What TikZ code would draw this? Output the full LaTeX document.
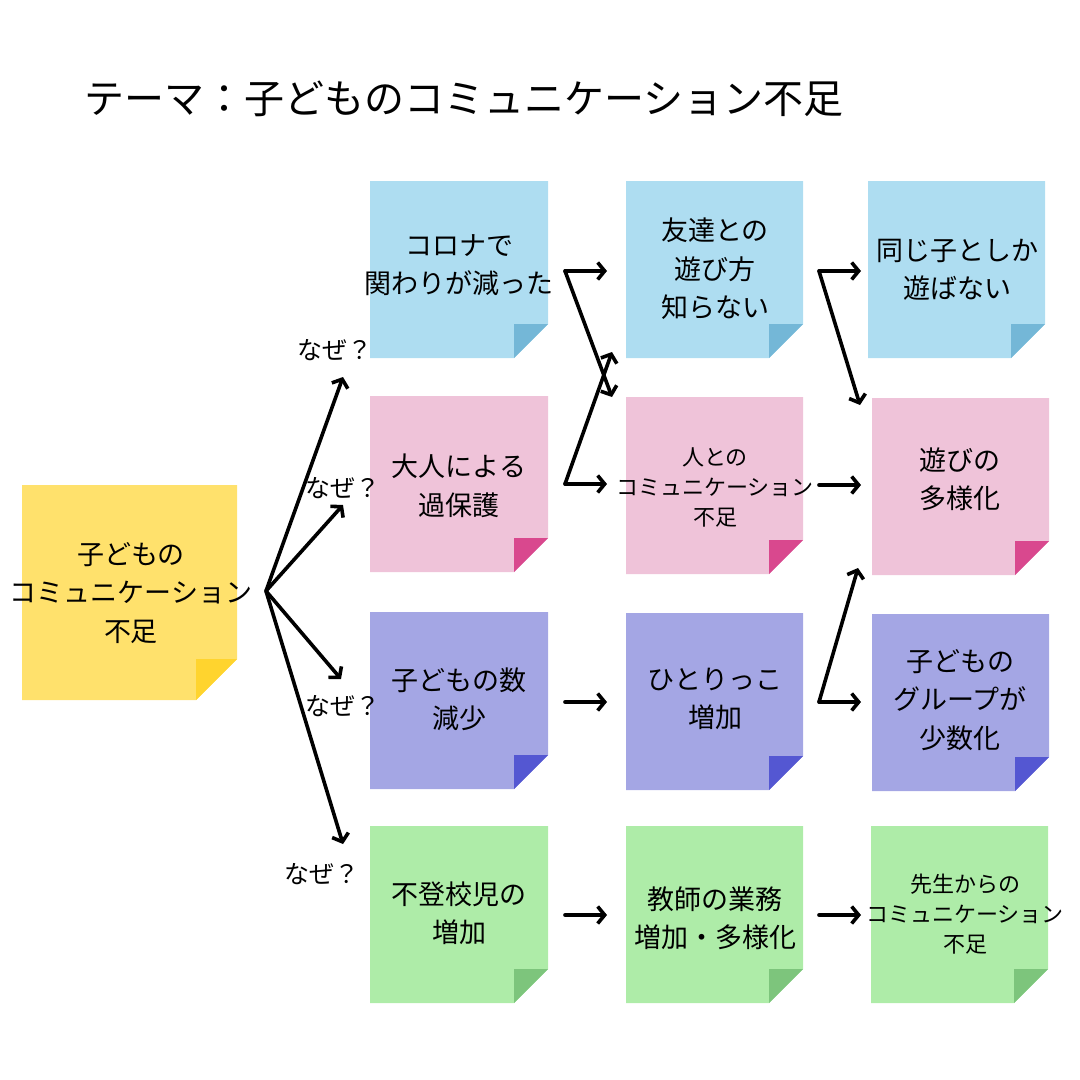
\documentclass[tikz,border=0pt]{standalone}
\usepackage{fontspec}
\setmainfont{Noto Sans CJK JP}
\usetikzlibrary{arrows.meta}
\definecolor{bluel}{HTML}{AEDDF1}\definecolor{blued}{HTML}{74B7D7}
\definecolor{pinkl}{HTML}{EFC3D9}\definecolor{pinkd}{HTML}{D9488E}
\definecolor{purpl}{HTML}{A4A6E4}\definecolor{purpd}{HTML}{5457D2}
\definecolor{greenl}{HTML}{AEECA8}\definecolor{greend}{HTML}{7DC57C}
\definecolor{yell}{HTML}{FFE16C}\definecolor{yeld}{HTML}{FFD42E}
\newcommand\stickynote[8][34]{%
  \fill[#6] (#2,#3) -- (#4,#3) -- (#4,{#5-#1}) -- ({#4-#1},#5) -- (#2,#5) -- cycle;
  \fill[#7] ({#4-#1},{#5-#1}) -- (#4,{#5-#1}) -- ({#4-#1},#5) -- cycle;
  \coordinate (#8) at ({(#2+#4)/2},{(#3+#5)/2});}
\tikzset{
  big/.style={font=\fontsize{27}{38.5}\selectfont, align=center, inner sep=0},
  small/.style={font=\fontsize{22}{30}\selectfont, align=center, inner sep=0},
  why/.style={font=\fontsize{25}{28}\selectfont, inner sep=0},
  arr/.style={line width=3.6pt, line cap=round, line join=round, -{Straight Barb[length=7pt,width=17pt]}}
}
\begin{document}
\begin{tikzpicture}[x=1pt,y=-1pt]
\useasboundingbox (0,0) rectangle (1080,1080);
\node[font=\fontsize{40}{44}\selectfont, anchor=west, inner sep=0] (title) at (84,99) {テーマ：子どものコミュニケーション不足};
% notes
\stickynote[41]{22}{485}{237}{700}{yell}{yeld}{c0}
\stickynote{370}{181}{548}{358}{bluel}{blued}{c11}
\stickynote{370}{396}{548}{572}{pinkl}{pinkd}{c12}
\stickynote{370}{612}{548}{789}{purpl}{purpd}{c13}
\stickynote{370}{826}{548}{1003}{greenl}{greend}{c14}
\stickynote{626}{181}{803}{358}{bluel}{blued}{c21}
\stickynote{626}{397}{803}{574}{pinkl}{pinkd}{c22}
\stickynote{626}{613}{803}{790}{purpl}{purpd}{c23}
\stickynote{626}{826}{803}{1003}{greenl}{greend}{c24}
\stickynote{868}{181}{1045}{358}{bluel}{blued}{c31}
\stickynote{872}{398}{1049}{575}{pinkl}{pinkd}{c32}
\stickynote{872}{614}{1049}{791}{purpl}{purpd}{c33}
\stickynote{871}{826}{1048}{1003}{greenl}{greend}{c34}
% texts
\node[big] (t0) at (131,593) {子どもの\\コミュニケーション\\不足};
\node[big] (t11) at (459,265) {コロナで\\関わりが減った};
\node[big] (t12) at (459,486) {大人による\\過保護};
\node[big] (t13) at (459,699) {子どもの数\\減少};
\node[big] (t14) at (459,913) {不登校児の\\増加};
\node[big] (t21) at (715,269) {友達との\\遊び方\\知らない};
\node[small] (t22) at (715,487) {人との\\コミュニケーション\\不足};
\node[big] (t23) at (715,699) {ひとりっこ\\増加};
\node[big] (t24) at (715,918) {教師の業務\\増加・多様化};
\node[big] (t31) at (957,270) {同じ子としか\\遊ばない};
\node[big] (t32) at (960,479) {遊びの\\多様化};
\node[big] (t33) at (960,700) {子どもの\\グループが\\少数化};
\node[small] (t34) at (965,914) {先生からの\\コミュニケーション\\不足};
% why labels
\node[why] (w1) at (335,350) {なぜ？};
\node[why] (w2) at (343,488) {なぜ？};
\node[why] (w3) at (343,706) {なぜ？};
\node[why] (w4) at (322,874) {なぜ？};
% arrow coordinates
\coordinate (s0) at (266,591);
\coordinate (e1) at (343,377);
\coordinate (e2) at (343,505);
\coordinate (e3) at (341,679);
\coordinate (e4) at (343,844);
\coordinate (a1) at (565,271);
\coordinate (a2) at (565,484);
\coordinate (a3) at (565,702);
\coordinate (a4) at (565,915);
\coordinate (b1) at (607,271);
\coordinate (b1d) at (612,397);
\coordinate (b2) at (607,484);
\coordinate (b2u) at (612,352);
\coordinate (b3) at (607,702);
\coordinate (b4) at (607,915);
\coordinate (f1) at (819,271);
\coordinate (f2) at (819,485);
\coordinate (f3) at (819,702);
\coordinate (f4) at (819,915);
\coordinate (g1) at (861,271);
\coordinate (g1d) at (860,405);
\coordinate (g2) at (861,485);
\coordinate (g3) at (861,702);
\coordinate (g3u) at (858,568);
\coordinate (g4) at (861,915);
% arrows
\foreach \e in {e1,e2,e3,e4} \draw[arr] (s0) -- (\e);
\draw[arr] (a1) -- (b1);
\draw[arr] (a1) -- (b1d);
\draw[arr] (a2) -- (b2);
\draw[arr] (a2) -- (b2u);
\draw[arr] (a3) -- (b3);
\draw[arr] (a4) -- (b4);
\draw[arr] (f1) -- (g1);
\draw[arr] (f1) -- (g1d);
\draw[arr] (f2) -- (g2);
\draw[arr] (f3) -- (g3);
\draw[arr] (f3) -- (g3u);
\draw[arr] (f4) -- (g4);
\end{tikzpicture}
\end{document}
